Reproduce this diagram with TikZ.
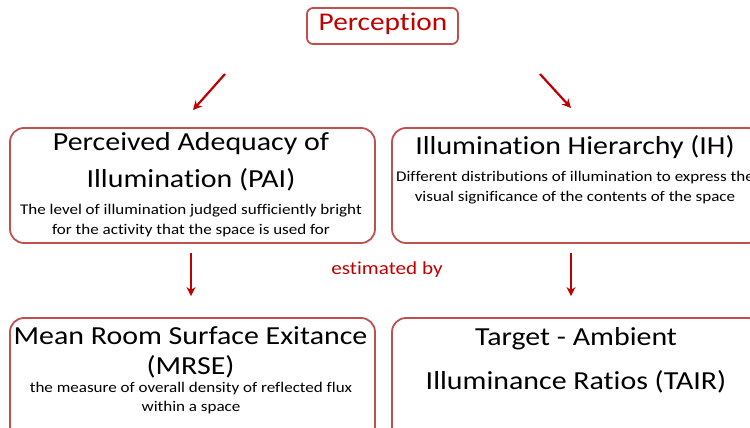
\documentclass[tikz,border=0pt]{standalone}
\usepackage{fontspec}
\setmainfont{Carlito}[FakeStretch=1.15, Ligatures=NoCommon]
\usetikzlibrary{arrows.meta}
\definecolor{boxred}{RGB}{192,80,77}
\definecolor{darkred}{RGB}{192,0,0}

\begin{document}
\begin{tikzpicture}[x=1pt,y=-1pt,
  box/.style={draw=boxred, line width=1.8pt, rounded corners=14pt, fill=white, inner sep=0pt},
  title/.style={font=\fontsize{26}{37}\selectfont, align=center, inner sep=0pt},
  desc/.style={font=\fontsize{14.8}{20}\selectfont, align=center, inner sep=0pt},
  link/.style={draw=darkred, line width=2.2pt, -{Stealth[length=9pt,width=9pt]}}]

\useasboundingbox (0,0) rectangle (750,428);
\clip (0,0) rectangle (750,428);

% top concept
\node[box, rounded corners=6pt, minimum width=151pt, minimum height=36pt] (pcpt) at (382.5,26) {};
\node[font=\fontsize{25.5}{30}\selectfont, text=darkred, inner sep=0pt] (pcpttxt) at (383,24) {Perception};

% second row
\node[box, minimum width=365pt, minimum height=115pt] (pai) at (192.5,185.5) {};
\node[title] (paititle) at (191,161.5) {Perceived Adequacy of\\Illumination (PAI)};
\node[desc] (paidesc) at (191,221) {The level of illumination judged sufficiently bright\\for the activity that the space is used for};

\node[box, minimum width=370pt, minimum height=115pt] (ih) at (577,185.5) {};
\node[title] (ihtitle) at (575,147) {Illumination Hierarchy (IH)};
\node[desc] (ihdesc) at (575,188) {Different distributions of illumination to express the\\visual significance of the contents of the space};

% third row
\node[box, minimum width=365pt, minimum height=124pt] (mrse) at (192.5,380) {};
\node[title, font=\fontsize{26}{30}\selectfont] (mrsetitle) at (190.5,352) {Mean Room Surface Exitance\\(MRSE)};
\node[desc, font=\fontsize{14.8}{19}\selectfont] (mrsedesc) at (191,398) {the measure of overall density of reflected flux\\within a space};

\node[box, minimum width=370pt, minimum height=124pt] (tair) at (577,380) {};
\node[title, font=\fontsize{26}{44}\selectfont] (tairtitle) at (576,360) {Target - Ambient\\Illuminance Ratios (TAIR)};

% connectors
\coordinate (l1s) at (225,74);
\coordinate (l1e) at (193,110);
\coordinate (r1s) at (540,74);
\coordinate (r1e) at (571,108);
\draw[link] (l1s) -- (l1e);
\draw[link] (r1s) -- (r1e);

\draw[link, shorten <=9pt, shorten >=21pt] ([xshift=-1.5pt]pai.south) -- ([xshift=-1.5pt]mrse.north);
\draw[link, shorten <=9pt, shorten >=21pt] ([xshift=-6pt]ih.south) -- ([xshift=-6pt]tair.north);

\node[font=\fontsize{18.4}{22}\selectfont, text=darkred, inner sep=0pt] (est) at (387,270) {estimated by};
\end{tikzpicture}
\end{document}
